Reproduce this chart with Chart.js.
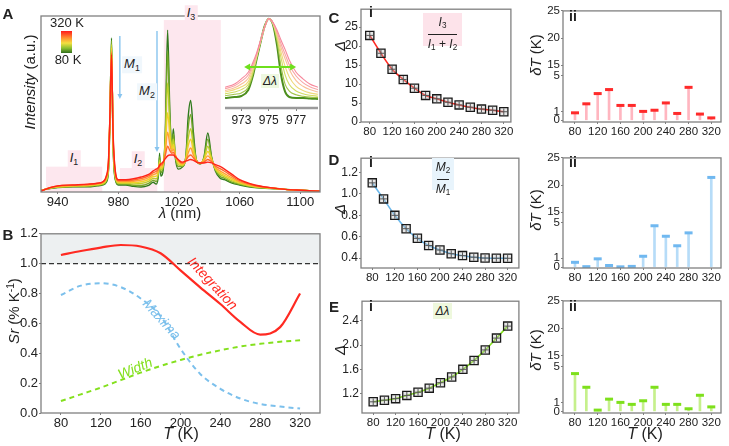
<!DOCTYPE html>
<html>
<head>
<meta charset="utf-8">
<script src="https://cdn.jsdelivr.net/npm/chart.js@4.4.0/dist/chart.umd.min.js"></script>
<style>
  body { margin: 0; background: #fff; }
  #fig { position: relative; width: 729px; height: 446px; overflow: hidden; font-family: 'Liberation Sans', Arial, sans-serif; color: #222; }
  #fig canvas { position: absolute; }
  .t { position: absolute; white-space: nowrap; line-height: 1; z-index: 2; }
  .t sub { font-size: 0.68em; vertical-align: -0.3em; }
  .t sup { font-size: 0.68em; vertical-align: 0.45em; }
  .pl { font-weight: bold; font-size: 15px; }
  .ax { font-size: 15px; }
  .rn { font-weight: bold; font-size: 14px; }
</style>
</head>
<body>
<div id="fig"></div>
<script>
// ---- panel A : emission spectra (a.u.) for a few temperatures ----
const wl = [929,935,940,950,960,966,970,972,973.5,974.5,975.5,976.5,978,980,985,990,995,1000,1003,1005,1006.5,1007.2,1008,1009.5,1011,1012.5,1014,1015.3,1016.3,1017.5,1019.5,1022,1024.5,1026,1027.7,1029.5,1031.5,1034,1036.5,1039,1041.5,1044,1047,1050,1055,1060,1070,1080,1090,1100,1113];
const I80  = [.010,.020,.025,.030,.030,.035,.040,.055,.12,.42,.875,.28,.07,.040,.040,.032,.028,.038,.055,.045,.100,.22,.09,.12,.35,.92,.45,.25,.36,.20,.13,.14,.20,.42,.52,.34,.18,.16,.20,.335,.20,.12,.08,.07,.05,.04,.025,.02,.015,.01,.005];
const I120 = [.010,.021,.026,.031,.032,.037,.043,.060,.13,.43,.86,.29,.075,.045,.044,.038,.037,.049,.066,.060,.108,.20,.11,.135,.32,.80,.42,.25,.33,.21,.145,.145,.195,.36,.44,.30,.18,.16,.195,.30,.195,.125,.09,.078,.056,.044,.027,.021,.015,.01,.005];
const I160 = [.008,.022,.028,.033,.035,.040,.047,.066,.14,.44,.84,.30,.085,.050,.049,.046,.048,.060,.077,.075,.115,.18,.125,.145,.29,.62,.37,.25,.30,.215,.155,.15,.19,.30,.36,.26,.18,.162,.19,.26,.19,.13,.10,.086,.063,.048,.029,.022,.015,.01,.005];
const I200 = [.008,.023,.030,.035,.038,.043,.051,.072,.15,.44,.82,.31,.095,.055,.054,.053,.058,.071,.088,.090,.122,.17,.135,.155,.26,.45,.32,.24,.27,.215,.165,.155,.185,.26,.30,.23,.175,.163,.185,.23,.185,.135,.11,.095,.071,.053,.031,.023,.015,.01,.005];
const I240 = [.006,.024,.032,.037,.040,.046,.055,.079,.16,.45,.80,.32,.105,.060,.060,.061,.068,.082,.099,.105,.128,.16,.145,.16,.23,.34,.27,.23,.245,.21,.175,.16,.18,.22,.25,.21,.175,.164,.178,.205,.18,.14,.12,.105,.08,.058,.034,.024,.015,.01,.005];
const I280 = [.006,.025,.034,.039,.043,.048,.058,.085,.17,.45,.79,.335,.115,.065,.065,.068,.077,.092,.110,.118,.134,.155,.153,.165,.21,.26,.235,.22,.225,.205,.18,.165,.178,.20,.21,.195,.172,.165,.17,.185,.172,.148,.133,.118,.09,.064,.037,.025,.015,.01,.005];
const I320 = [.005,.025,.035,.040,.045,.050,.060,.090,.18,.45,.78,.35,.12,.070,.070,.075,.085,.100,.120,.130,.140,.150,.160,.170,.19,.205,.21,.21,.21,.20,.185,.17,.175,.18,.185,.18,.17,.165,.165,.17,.165,.155,.145,.13,.10,.07,.04,.025,.015,.01,.005];
const specTicks = [940,980,1020,1060,1100];

// inset: normalised 975 nm line
const wlIn = [971.8,972.5,973,973.5,973.8,974.1,974.4,974.7,975,975.3,975.6,975.9,976.2,976.5,977,977.5,978,978.6];
const N80  = [.096,.106,.117,.18,.31,.50,.69,.86,.94,.88,.66,.34,.16,.106,.096,.096,.09,.085];
const N120 = [.12,.135,.15,.21,.33,.51,.69,.86,.94,.885,.70,.43,.24,.17,.13,.115,.105,.10];
const N160 = [.14,.16,.185,.24,.35,.52,.70,.85,.94,.89,.74,.52,.34,.24,.17,.14,.125,.115];
const N200 = [.16,.185,.215,.27,.38,.53,.70,.85,.94,.89,.76,.58,.43,.32,.22,.175,.15,.135];
const N240 = [.175,.205,.245,.305,.41,.54,.70,.85,.94,.895,.78,.63,.51,.40,.28,.22,.185,.16];
const N280 = [.195,.225,.275,.34,.435,.555,.705,.85,.94,.9,.80,.67,.56,.45,.33,.26,.215,.185];
const N320 = [.21,.245,.30,.37,.46,.57,.71,.85,.94,.9,.82,.71,.61,.50,.37,.30,.245,.21];
const inTicks = [973,975,977];

// ---- panel B : relative sensitivity ----
const T = [80,100,120,140,160,180,200,220,240,260,280,300,320];
const tTicks = [80,120,160,200,240,280,320];
const srInt = [1.058,1.085,1.108,1.125,1.115,1.07,0.955,0.84,0.73,0.61,0.525,0.575,0.80];
const srMax = [0.79,0.853,0.869,0.843,0.767,0.649,0.43,0.26,0.162,0.097,0.06,0.043,0.03];
const srWid = [0.08,0.125,0.17,0.22,0.27,0.315,0.355,0.39,0.42,0.445,0.463,0.477,0.487];
const srTicks = [0,0.2,0.4,0.6,0.8,1.0,1.2];

// ---- panels C-E : thermometric parameters and uncertainty ----
const dC = [22.8,18.1,13.9,11.2,8.9,7.0,6.1,5.2,4.5,3.9,3.4,3.1,2.7];
const dD = [1.104,0.954,0.80,0.675,0.585,0.517,0.475,0.441,0.423,0.408,0.40,0.398,0.398];
const dE = [1.07,1.097,1.122,1.175,1.227,1.294,1.383,1.477,1.602,1.748,1.92,2.114,2.31];
const eC = [0.84,1.85,3.0,3.45,1.67,1.67,1.0,1.13,1.95,0.77,3.7,0.7,0.27];
const eD = [0.54,0.05,0.93,0.18,0.03,0.08,1.22,4.65,3.47,2.4,3.85,null,21.4];
const eE = [4.2,2.68,5.1,1.36,1.0,0.78,1.18,2.68,0.78,0.78,0.29,1.79,0.5];
const cTicks = [0,5,10,15,20,25];
const dTicks = [0.4,0.6,0.8,1.0,1.2];
const eTicks = [1.2,1.6,2.0,2.4];
const errTicks = [0,1,5,15,20,25];

const fig = document.getElementById('fig');
const FONT = "'Liberation Sans', Arial, sans-serif";
Chart.defaults.font.family = FONT;
Chart.defaults.color = '#222';

// broken δT axis: 0-5 linear, then 15-25 compressed
const brk = v => v <= 5 ? v : 6.18 + (v - 15) * 0.61;

const framePlugin = {
  id: 'frame',
  afterDatasetsDraw(ch) {
    const a = ch.chartArea, c = ch.ctx;
    c.save();
    c.strokeStyle = '#808080';
    c.lineWidth = 1.3;
    c.strokeRect(a.left, a.top, a.right - a.left, a.bottom - a.top);
    c.restore();
  }
};

function make(pos, cfg, plugins) {
  const [l, t, r, b, ml, mb] = pos;
  const mt = 3, mr = 3;
  const cv = document.createElement('canvas');
  const w = Math.round(r - l + ml + mr), h = Math.round(b - t + mt + mb);
  cv.width = w; cv.height = h;
  cv.style.left = (l - ml) + 'px';
  cv.style.top = (t - mt) + 'px';
  cv.style.width = w + 'px';
  cv.style.height = h + 'px';
  fig.appendChild(cv);
  cfg.options.responsive = false;
  cfg.options.animation = false;
  cfg.options.devicePixelRatio = 1;
  cfg.options.layout = { padding: { top: mt, right: mr, left: 0, bottom: 0 } };
  cfg.options.plugins = Object.assign({ legend: { display: false }, tooltip: { enabled: false } }, cfg.options.plugins || {});
  cfg.options.scales.x.afterFit = s => { s.height = mb; };
  cfg.options.scales.y.afterFit = s => { s.width = ml; };
  cfg.plugins = plugins;
  return new Chart(cv, cfg);
}

function axis(min, max, ticks, fmt, size) {
  return {
    type: 'linear', min, max, offset: false,
    afterBuildTicks: s => { s.ticks = ticks.map(v => ({ value: v })); },
    grid: { drawOnChartArea: false, offset: false, tickLength: 2, color: '#808080' },
    border: { display: false },
    ticks: { autoSkip: false, maxRotation: 0, padding: 1, font: { size: size || 11.5 }, color: '#222',
             callback: fmt || (v => v) }
  };
}

const pts = (xs, ys) => xs.map((x, i) => ({ x, y: ys[i] }));

// ---- panel A ----
const specSets = [[I320, '#ff2418'], [I280, '#ff6a2a'], [I240, '#ffa232'], [I200, '#f0d228'],
                  [I160, '#bccf2a'], [I120, '#74a828'], [I80, '#2f7a1c']];

const bandsPlugin = {
  id: 'bands',
  beforeDatasetsDraw(ch) {
    const c = ch.ctx, x = ch.scales.x, y = ch.scales.y;
    c.save();
    c.fillStyle = '#fde7ee';
    [[932.3, 969.4, 0.144], [981, 1005.7, 0.136], [1010, 1047.6, 0.977]].forEach(([a, b, h]) => {
      c.fillRect(x.getPixelForValue(a), y.getPixelForValue(h), x.getPixelForValue(b) - x.getPixelForValue(a), y.getPixelForValue(0) - y.getPixelForValue(h));
    });
    c.restore();
  },
  afterDatasetsDraw(ch) {
    const c = ch.ctx, x = ch.scales.x, y = ch.scales.y;
    c.save();
    c.strokeStyle = '#88c4ee'; c.fillStyle = '#88c4ee'; c.lineWidth = 1.4;
    [[981, 0.886, 0.528], [1005.5, 0.915, 0.227]].forEach(([w, a, b]) => {
      const px = x.getPixelForValue(w), y0 = y.getPixelForValue(a), y1 = y.getPixelForValue(b);
      c.beginPath(); c.moveTo(px, y0); c.lineTo(px, y1 - 4); c.stroke();
      c.beginPath(); c.moveTo(px - 2.5, y1 - 5); c.lineTo(px + 2.5, y1 - 5); c.lineTo(px, y1); c.closePath(); c.fill();
    });
    c.restore();
  }
};

make([41, 16, 320, 192, 41, 18], {
  type: 'line',
  data: { datasets: specSets.map(([arr, col]) => ({ data: pts(wl, arr), borderColor: col, borderWidth: 1.4, pointRadius: 0, cubicInterpolationMode: 'monotone' })) },
  options: {
    scales: {
      x: axis(929, 1113, specTicks, null, 13),
      y: Object.assign(axis(0, 1, []), { ticks: { display: false } })
    }
  }
}, [bandsPlugin, framePlugin]);

// inset
const inSets = [[N320, '#f7889c'], [N280, '#f8a4a6'], [N240, '#f9c09a'], [N200, '#efd97a'],
                [N160, '#d2dc62'], [N120, '#a2c448'], [N80, '#4d8f1e']];
const inArrow = {
  id: 'inArrow',
  afterDatasetsDraw(ch) {
    const c = ch.ctx, x = ch.scales.x, y = ch.scales.y;
    const a = x.getPixelForValue(973.2), b = x.getPixelForValue(977.0), py = y.getPixelForValue(0.426);
    c.save();
    c.strokeStyle = '#6ee01c'; c.fillStyle = '#6ee01c'; c.lineWidth = 2;
    c.beginPath(); c.moveTo(a + 4, py); c.lineTo(b - 4, py); c.stroke();
    c.beginPath(); c.moveTo(a, py); c.lineTo(a + 6, py - 3.5); c.lineTo(a + 6, py + 3.5); c.closePath(); c.fill();
    c.beginPath(); c.moveTo(b, py); c.lineTo(b - 6, py - 3.5); c.lineTo(b - 6, py + 3.5); c.closePath(); c.fill();
    // base line of the inset
    const ca = ch.chartArea;
    c.strokeStyle = '#9a9a9a'; c.lineWidth = 2.5;
    c.beginPath(); c.moveTo(ca.left, ca.bottom + 1); c.lineTo(ca.right, ca.bottom + 1); c.stroke();
    c.restore();
  }
};
const inX = axis(971.8, 978.6, inTicks, null, 12);
inX.grid.tickLength = 4;
inX.ticks.padding = 2;
make([225, 13, 318, 107, 0, 18], {
  type: 'line',
  data: { datasets: inSets.map(([arr, col], i) => ({ data: pts(wlIn, arr), borderColor: col, borderWidth: i === 6 ? 2 : 1.1, pointRadius: 0, cubicInterpolationMode: 'monotone' })) },
  options: {
    scales: {
      x: inX,
      y: { type: 'linear', min: 0, max: 1, display: false }
    }
  }
}, [inArrow]);

// ---- panel B ----
const bPlugin = {
  id: 'bShade',
  beforeDatasetsDraw(ch) {
    const c = ch.ctx, y = ch.scales.y, a = ch.chartArea;
    c.save();
    c.fillStyle = '#edf0f1';
    c.fillRect(a.left, y.getPixelForValue(1.2), a.right - a.left, y.getPixelForValue(1.0) - y.getPixelForValue(1.2));
    c.strokeStyle = '#333'; c.lineWidth = 1.4; c.setLineDash([5, 3]);
    c.beginPath(); c.moveTo(a.left, y.getPixelForValue(1.0)); c.lineTo(a.right, y.getPixelForValue(1.0)); c.stroke();
    c.restore();
  }
};
make([41, 228, 320, 413, 41, 18], {
  type: 'line',
  data: {
    datasets: [
      { data: pts(T, srInt), borderColor: '#ff2a22', borderWidth: 2.2, pointRadius: 0, cubicInterpolationMode: 'monotone' },
      { data: pts(T, srMax), borderColor: '#7cc0ec', borderWidth: 2, borderDash: [5, 4], pointRadius: 0, cubicInterpolationMode: 'monotone' },
      { data: pts(T, srWid), borderColor: '#84e01e', borderWidth: 2, borderDash: [5, 4], pointRadius: 0, cubicInterpolationMode: 'monotone' }
    ]
  },
  options: {
    scales: {
      x: axis(60, 340, tTicks, null, 13),
      y: axis(0, 1.2, srTicks, v => v.toFixed(1), 13)
    }
  }
}, [bPlugin, framePlugin]);

// ---- panels C-E (i) ----
function fitPanel(pos, xr, yr, vals, yTicks, fmt, col) {
  const d = pts(T, vals);
  return make(pos, {
    type: 'line',
    data: {
      datasets: [
        { data: d, showLine: false, pointStyle: 'cross', pointRadius: 3.4, pointBorderColor: '#555', pointBorderWidth: 1 },
        { data: d, showLine: false, pointStyle: 'rect', pointRadius: 5.8, pointBackgroundColor: 'rgba(190,190,190,0.35)', pointBorderColor: '#1a1a1a', pointBorderWidth: 1.3 },
        { data: d, borderColor: col, borderWidth: 1.6, pointRadius: 0, cubicInterpolationMode: 'monotone' }
      ]
    },
    options: {
      clip: false,
      scales: { x: axis(xr[0], xr[1], tTicks), y: axis(yr[0], yr[1], yTicks, fmt, 12) }
    }
  }, [framePlugin]);
}
fitPanel([361, 4, 515, 122, 30, 17], [64.3, 332.7], [0, 29.7], dC, cTicks, null, '#ff2a22');
fitPanel([361, 153, 523, 268, 30, 17], [60, 340], [0.307, 1.335], dD, dTicks, v => v.toFixed(1), '#6cb8ec');
fitPanel([362, 296, 523, 413, 30, 17], [60, 340], [0.887, 2.718], dE, eTicks, v => v.toFixed(1), '#84e01e');

// ---- panels C-E (ii) : δT stems on a broken axis ----
function stemPanel(pos, ymin, vals, stemCol, capCol) {
  const d = T.map((t, i) => vals[i] == null ? null : { x: t, y: brk(vals[i]) }).filter(Boolean);
  const yAx = axis(ymin, brk(25), errTicks.map(brk), (v, i) => String(errTicks[i]), 11.5);
  return make(pos, {
    type: 'line',
    data: {
      datasets: [
        { data: d, showLine: false, pointStyle: 'line', pointRadius: 4, pointBorderColor: capCol, pointBorderWidth: 3 },
        { type: 'bar', data: d, backgroundColor: stemCol, barThickness: 2 }
      ]
    },
    options: {
      scales: { x: axis(58.9, 337.1, tTicks), y: yAx }
    }
  }, [framePlugin]);
}
stemPanel([563, 6, 725, 122, 22, 17], -0.19, eC, '#ffb6c0', '#ff2a2a');
stemPanel([563, 153, 725, 268, 22, 17], -0.1, eD, '#b6dcf8', '#70b8f0');
stemPanel([563, 296, 725, 413, 22, 17], -0.18, eE, '#c6f08c', '#7ee01c');

// ---- text ----
function label(html, x, y, cls, style, rot) {
  const d = document.createElement('div');
  d.className = 't ' + (cls || '');
  d.innerHTML = html;
  d.style.cssText += `left:${x}px;top:${y}px;transform:translate(-50%,-50%) rotate(${rot || 0}deg);` + (style || '');
  fig.appendChild(d);
}
label('A', 8, 13, 'pl');
label('B', 8, 234, 'pl');
label('C', 334, 17, 'pl');
label('D', 334, 159, 'pl');
label('E', 334, 306, 'pl');

label('<i>Intensity</i> (a.u.)', 29, 82, 'ax', '', -90);
label('<i>λ</i> (nm)', 180, 212, 'ax');
label('<i>Sr</i> (% K<sup>-1</sup>)', 13, 311, 'ax', '', -90);
label('<i>T</i> (K)', 181, 434, 'ax', 'font-size:16px;');
label('<i>T</i> (K)', 443, 434, 'ax', 'font-size:16px;');
label('<i>T</i> (K)', 645, 434, 'ax', 'font-size:16px;');
label('<i>Δ</i>', 339, 46, 'ax', '', -90);
label('<i>Δ</i>', 339, 209, 'ax', '', -90);
label('<i>Δ</i>', 339, 350, 'ax', '', -90);
label('<i>δT</i> (K)', 535, 55, 'ax', '', -90);
label('<i>δT</i> (K)', 535, 210, 'ax', '', -90);
label('<i>δT</i> (K)', 535, 350, 'ax', '', -90);

label('i', 371, 12, 'rn');
label('i', 371, 162, 'rn');
label('i', 371, 306, 'rn');
label('ii', 573, 16, 'rn');
label('ii', 573, 162, 'rn');
label('ii', 573, 306, 'rn');

// panel A annotations
label('320 K', 67, 22, '', 'font-size:13px;');
label('80 K', 68, 59, '', 'font-size:13px;');
const bar = document.createElement('div');
bar.style.cssText = 'position:absolute;left:61px;top:31px;width:11px;height:22px;background:linear-gradient(#ff1a1a,#ff8a30 30%,#f4e040 55%,#8cc030 78%,#2f6e1e);';
fig.appendChild(bar);
label('<i>I</i><sub>1</sub>', 74, 159, '', 'font-size:13px;background:#fde7ee;padding:1px 2px;');
label('<i>I</i><sub>2</sub>', 138, 160, '', 'font-size:13px;background:#fde7ee;padding:1px 2px;');
label('<i>I</i><sub>3</sub>', 191, 14, '', 'font-size:13px;background:#fde7ee;padding:1px 2px;');
label('<i>M</i><sub>1</sub>', 132, 65, '', 'font-size:13px;background:#f0f7fc;padding:1px 2px;');
label('<i>M</i><sub>2</sub>', 147, 92, '', 'font-size:13px;background:#f0f7fc;padding:1px 2px;');
label('<i>Δλ</i>', 270, 81, '', 'font-size:12px;background:#eef8e0;padding:1px 2px;');

// panel B curve names
label('<i>Integration</i>', 213, 283, '', 'font-size:14px;color:#ff2a22;', 47);
label('<i>Maxima</i>', 162, 319, '', 'font-size:14px;color:#7cc0ec;', 48);
label('<i>Width</i>', 135, 368, '', 'font-size:14px;color:#84e01e;', -22);

// ratio boxes
function ratio(top, bot, x0, y0, w, h, bg) {
  const d = document.createElement('div');
  d.style.cssText = `position:absolute;left:${x0}px;top:${y0}px;width:${w}px;height:${h}px;background:${bg};font-size:12px;text-align:center;line-height:1;`;
  d.innerHTML = `<div style="padding-top:3px">${top}</div><div style="margin:3px 5px 3px;border-top:1px solid #222"></div><div>${bot}</div>`;
  d.querySelectorAll('sub').forEach(s => { s.style.fontSize = '0.68em'; s.style.verticalAlign = '-0.3em'; });
  fig.appendChild(d);
}
ratio('<i>I</i><sub>3</sub>', '<i>I</i><sub>1</sub> + <i>I</i><sub>2</sub>', 423, 13, 39, 33, '#fde3ea');
ratio('<i>M</i><sub>2</sub>', '<i>M</i><sub>1</sub>', 432, 158, 22, 32, '#e8f4fc');
label('<i>Δλ</i>', 442.5, 311, '', 'font-size:12px;background:#eef8dd;padding:2px 3px;');
</script>
</body>
</html>
